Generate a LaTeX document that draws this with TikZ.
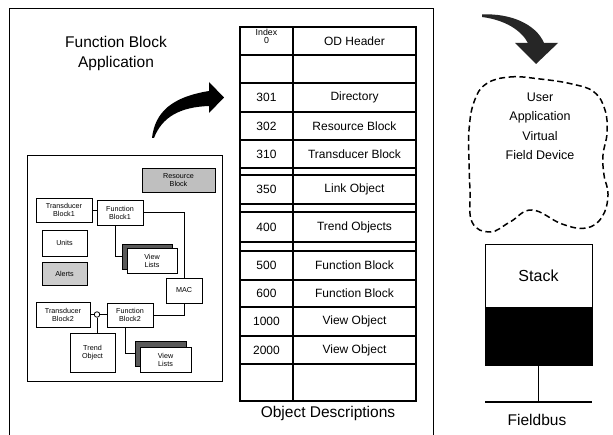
\documentclass[tikz,border=0pt]{standalone}
\usepackage{fontspec}
\setmainfont{Liberation Sans}
\begin{document}
\begin{tikzpicture}[x=1pt,y=-1pt,
  frame/.style={line width=0.9pt},
  cell/.style={draw, line width=1.2pt, inner sep=0pt, font=\fontsize{12}{14}\selectfont},
  blk/.style={draw, line width=0.9pt, inner sep=0pt, align=center, fill=white, font=\fontsize{7.2}{8}\selectfont},
  big/.style={font=\fontsize{15.5}{20}\selectfont, align=center, inner sep=0pt},
  conn/.style={line width=0.8pt},
]
\useasboundingbox (0,0) rectangle (613,435);
\fill[white] (0,0) rectangle (613,435);

% outer frame
\draw[frame] (9,435) -- (9,8) -- (433,8) -- (433,435);

% title
\node[big] (fba) at (116,53) {Function Block\\Application};

% curved arrow (left)
\fill[black] (152,138) .. controls (155,112) and (172,97) .. (209,91) -- (209,82) -- (224,97.5) -- (209,113) -- (209,106) .. controls (180,107) and (162,117) .. (154,138) -- cycle;

% inner application diagram
\node[draw, line width=0.9pt, minimum width=195pt, minimum height=226pt] (inner) at (124.5,268) {};
\node[blk, fill=black!25, minimum width=73pt, minimum height=24pt] (rb) at (178.5,180) {Resource\\Block};
\node[blk, minimum width=56pt, minimum height=24pt] (tb1) at (64,210) {Transducer\\Block1};
\node[blk, minimum width=46pt, minimum height=25pt] (fb1) at (120,212.5) {Function\\Block1};
\node[blk, minimum width=45pt, minimum height=26pt] (units) at (64.5,243) {Units};
\node[blk, fill=black!20, minimum width=45pt, minimum height=23pt] (alerts) at (64.5,273.5) {Alerts};
\node[blk, fill=black!65, minimum width=50pt, minimum height=25pt] (vl1b) at (147,256.5) {};
\node[blk, minimum width=50pt, minimum height=25pt] (vl1) at (152,260.5) {View\\Lists};
\node[blk, minimum width=36pt, minimum height=25pt] (mac) at (184,290.5) {MAC};
\node[blk, minimum width=54pt, minimum height=25pt] (tb2) at (63,314.5) {Transducer\\Block2};
\node[draw, circle, inner sep=0pt, minimum size=5.5pt, line width=0.8pt] (jn) at (97,314.5) {};
\node[blk, minimum width=46pt, minimum height=24pt] (fb2) at (130,315) {Function\\Block2};
\node[blk, minimum width=45pt, minimum height=39pt] (trend) at (92.5,352.5) {Trend\\Object};
\node[blk, fill=black!65, minimum width=51pt, minimum height=25pt] (vl2b) at (160.5,353.5) {};
\node[blk, minimum width=51pt, minimum height=25pt] (vl2) at (165.5,359.5) {View\\Lists};

\draw[conn] (tb1.east) -- (tb1.east -| fb1.west);
\draw[conn] (fb1.east) -| (mac.north);
\draw[conn] (fb2.east) -| (mac.south);
\draw[conn] ([xshift=-5pt]fb1.south) |- (vl1b.west);
\draw[conn] ([xshift=-5pt]fb2.south) |- (vl2b.west);
\draw[conn] (tb2.east) -- (jn.west);
\draw[conn] (jn.east) -- (jn.east -| fb2.west);
\draw[conn] (jn.south) -- (jn.south |- trend.north);

% object dictionary table
\foreach \i/\ya/\yb/\n/\t in {1/27/55//OD Header, 2/55/83//, 3/83/112/301/Directory,
  4/112/140/302/Resource Block, 5/140/168/310/Transducer Block, 6/168/175//,
  7/175/204/350/Link Object, 8/204/212//, 9/212/242/400/Trend Objects, 10/242/251//,
  11/251/280/500/Function Block, 12/280/307/600/Function Block, 13/307/336/1000/View Object,
  14/336/364/2000/View Object, 15/364/401//}
{
  \pgfmathsetmacro\h{\yb-\ya}
  \pgfmathsetmacro\yc{(\ya+\yb)/2}
  \node[cell, minimum width=53pt, minimum height=\h pt] (L\i) at (266.5,\yc) {\n};
  \node[cell, minimum width=123pt, minimum height=\h pt] (R\i) at (354.5,\yc) {\t};
}
\node[font=\fontsize{8.8}{8}\selectfont, align=center, anchor=north, inner sep=0pt] (idx) at (266.5,29) {Index\\0};
\node[big] (od) at (328,413) {Object Descriptions};

% right arrow
\fill[black!85] (482,14.5) .. controls (510,13) and (536,24) .. (544,43) -- (558,43) -- (536,64) -- (515,43) -- (528,43) .. controls (521,30) and (505,20) .. (482,17) -- cycle;

% cloud (virtual field device)
\draw[line width=1.5pt, dash pattern=on 6pt off 3.5pt] plot[smooth cycle, tension=0.7] coordinates {
  (486,84) (510,77) (540,79) (572,84) (594,92) (605,110) (607,133) (603,155) (604,175)
  (608,195) (602,217) (586,228) (562,224) (532,210) (510,222) (490,232) (472,222)
  (470,190) (469,160) (469,130) (474,102)};
\node[font=\fontsize{12.5}{19.5}\selectfont, align=center] (uavfd) at (540,126.5) {User\\Application\\Virtual\\Field Device};

% stack
\node[draw, line width=0.9pt, minimum width=107pt, minimum height=63pt, inner sep=0pt, font=\fontsize{16}{18}\selectfont] (stack) at (538.5,275.5) {Stack};
\node[draw, fill=black, line width=0.9pt, minimum width=107pt, minimum height=58pt] (lower) at (538.5,336) {};
\coordinate (busL) at (485,402);
\coordinate (busR) at (592,402);
\draw[line width=1.2pt] (busL) -- (busR);
\draw[line width=0.9pt] (lower.south) -- (lower.south |- busL);
\node[big] (fieldbus) at (537,420) {Fieldbus};
\end{tikzpicture}
\end{document}
